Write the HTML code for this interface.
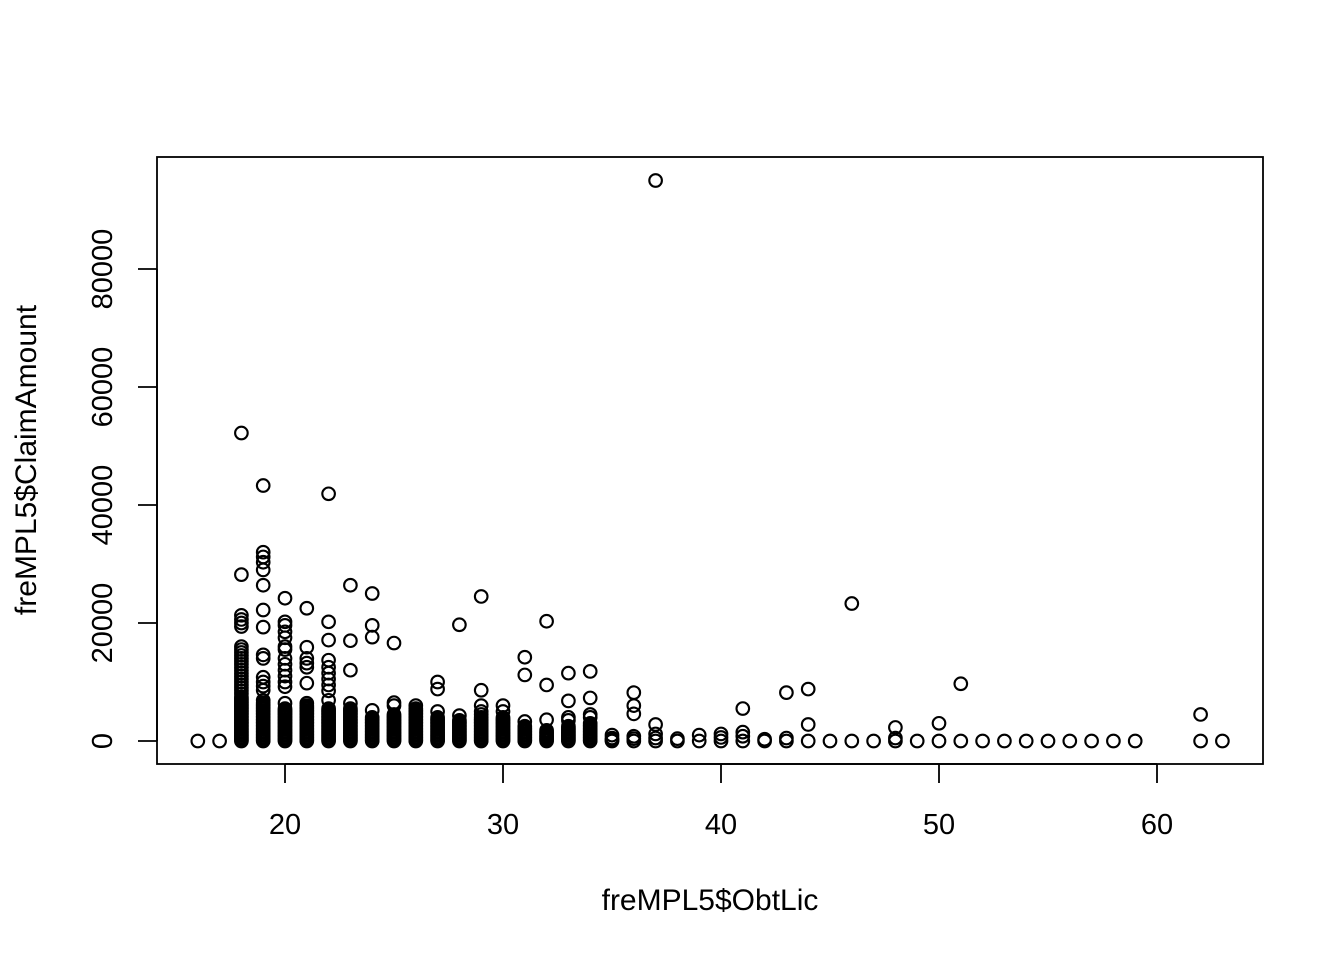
<!DOCTYPE html>
<html><head><meta charset="utf-8"><style>
html,body{margin:0;padding:0;background:#fff}
svg{display:block;font-family:"Liberation Sans",Arial,sans-serif}
</style></head><body>
<svg id="chart" width="1344" height="960" xmlns="http://www.w3.org/2000/svg">
<rect x="157" y="157" width="1106" height="607" fill="none" stroke="#000" stroke-width="1.8"/>
<g id="xaxis"></g>
<g id="yaxis"></g>
<g id="pts"></g>
<text x="710" y="910" font-size="30" text-anchor="middle">freMPL5$ObtLic</text>
<text transform="translate(36,460) rotate(-90)" font-size="30" text-anchor="middle">freMPL5$ClaimAmount</text>
</svg>
<script>
const xTicks=[20,30,40,50,60];
const yTicks=[0,20000,40000,60000,80000];
const yTickLabels=["0","20000","40000","60000","80000"];
// ObtLic categories and claim amounts (thousands) per category
const obtLic=[16,17,18,19,20,21,22,23,24,25,26,27,28,29,30,31,32,33,34,35,36,37,38,39,40,41,42,43,44,45,46,47,48,49,50,51,52,53,54,55,56,57,58,59,62,63];
const claimsK=[
[0],[0],
[52.2,28.2,21.3,20.6,20,19.4,16,15.5,15,14.5,14,13.5,13,12.5,12,11.5,11,10.5,10,9.5,9,8.5,8,7.5,7.2,7,6.7,6.5,6.2,6,5.7,5.5,5.2,5,4.7,4.5,4.2,4,3.7,3.5,3.2,3,2.7,2.5,2.2,2,1.7,1.5,1.2,1,0.7,0.5,0.2,0],
[43.3,32,31.2,30.3,29,26.4,22.2,19.3,14.6,14,10.8,10,9.3,8.6,6.9,6.5,6.2,6,5.7,5.5,5.2,5,4.7,4.5,4.2,4,3.7,3.5,3.2,3,2.7,2.5,2.2,2,1.7,1.5,1.2,1,0.7,0.5,0.2,0],
[24.2,20.2,19.6,18.5,17.5,16,15.5,14,13,12,11,10,9.2,6.4,5.5,5.2,5,4.7,4.5,4.2,4,3.7,3.5,3.2,3,2.7,2.5,2.2,2,1.7,1.5,1.2,1,0.7,0.5,0.2,0],
[22.5,15.9,14,13.2,12.5,9.8,6.4,6,5.7,5.5,5.2,5,4.7,4.5,4.2,4,3.7,3.5,3.2,3,2.7,2.5,2.2,2,1.7,1.5,1.2,1,0.7,0.5,0.2,0],
[41.9,20.2,17.1,13.7,12.5,11.5,10.5,9.5,8.5,6.9,5.5,5.2,5,4.7,4.5,4.2,4,3.7,3.5,3.2,3,2.7,2.5,2.2,2,1.7,1.5,1.2,1,0.7,0.5,0.2,0],
[26.4,17,12,6.4,5.5,5.2,5,4.7,4.5,4.2,4,3.7,3.5,3.2,3,2.7,2.5,2.2,2,1.7,1.5,1.2,1,0.7,0.5,0.2,0],
[25,19.6,17.6,5.2,4,3.7,3.5,3.2,3,2.7,2.5,2.2,2,1.7,1.5,1.2,1,0.7,0.5,0.2,0],
[16.6,6.5,6,4.5,4.2,4,3.7,3.5,3.2,3,2.7,2.5,2.2,2,1.7,1.5,1.2,1,0.7,0.5,0.2,0],
[6,5.5,5.2,5,4.7,4.5,4.2,4,3.7,3.5,3.2,3,2.7,2.5,2.2,2,1.7,1.5,1.2,1,0.7,0.5,0.2,0],
[10,8.8,5,4,3.7,3.5,3.2,3,2.7,2.5,2.2,2,1.7,1.5,1.2,1,0.7,0.5,0.2,0],
[19.7,4.3,3.5,3.2,3,2.7,2.5,2.2,2,1.7,1.5,1.2,1,0.7,0.5,0.2,0],
[24.5,8.6,6,5,4.5,4,3.7,3.5,3.2,3,2.7,2.5,2.2,2,1.7,1.5,1.2,1,0.7,0.5,0.2,0],
[6,5,4,3.7,3.5,3.2,3,2.7,2.5,2.2,2,1.7,1.5,1.2,1,0.7,0.5,0.2,0],
[14.2,11.2,3.3,2.5,2.2,2,1.7,1.5,1.2,1,0.7,0.5,0.2,0],
[20.3,9.5,3.6,1.8,1.5,1.3,1,0.8,0.6,0.4,0.2,0],
[11.5,6.8,4,3.5,2.5,2.2,2,1.7,1.5,1.2,1,0.7,0.5,0.2,0],
[11.8,7.3,4.5,4,3,2.7,2.5,2.2,2,1.7,1.5,1.2,1,0.7,0.5,0.2,0],
[1,0.5,0.2,0],
[8.2,6,4.6,0.8,0.4,0],
[95,2.8,1.2,0.5,0],
[0.4,0],[1,0],[1.2,0.6,0],[5.5,1.5,0.8,0],[0.3,0],[8.2,0.5,0],[8.8,2.8,0],
[0],[23.3,0],[0],[2.3,0.5,0],[0],[3,0],[9.7,0],[0],[0],[0],[0],[0],[0],[0],[0],[4.5,0],[0]
];
const NS="http://www.w3.org/2000/svg";
const sx=v=>285+(v-20)*21.8;
const sy=v=>741-v*0.0059;
const xa=document.getElementById('xaxis'),ya=document.getElementById('yaxis'),pg=document.getElementById('pts');
function mk(tag,attrs,parent){const e=document.createElementNS(NS,tag);for(const k in attrs)e.setAttribute(k,attrs[k]);parent.appendChild(e);return e;}
mk('line',{x1:sx(20),x2:sx(60),y1:764,y2:764,stroke:'#000','stroke-width':1.8},xa);
xTicks.forEach(t=>{
 const l=mk('line',{x1:sx(t),x2:sx(t),y1:764,y2:783,stroke:'#000','stroke-width':1.8},xa);
 
 
 const tx=mk('text',{x:sx(t),y:834,'font-size':29,'text-anchor':'middle'},xa);
 tx.textContent=t;
 
 
});
mk('line',{x1:157,x2:157,y1:sy(0),y2:sy(80000),stroke:'#000','stroke-width':1.8},ya);
yTicks.forEach((t,i)=>{
 const l=mk('line',{x1:138,x2:157,y1:sy(t),y2:sy(t),stroke:'#000','stroke-width':1.8},ya);
 
 
 const tx=mk('text',{transform:`translate(112,${sy(t)}) rotate(-90)`,'font-size':29,'text-anchor':'middle'},ya);
 tx.textContent=yTickLabels[i];
 
 
});
obtLic.forEach((x,i)=>{
 claimsK[i].forEach(v=>{
  const c=mk('circle',{cx:sx(x),cy:sy(v*1000),r:6.3,fill:'none',stroke:'#000','stroke-width':2.1},pg);
  
  
 });
});
</script>
</body></html>
